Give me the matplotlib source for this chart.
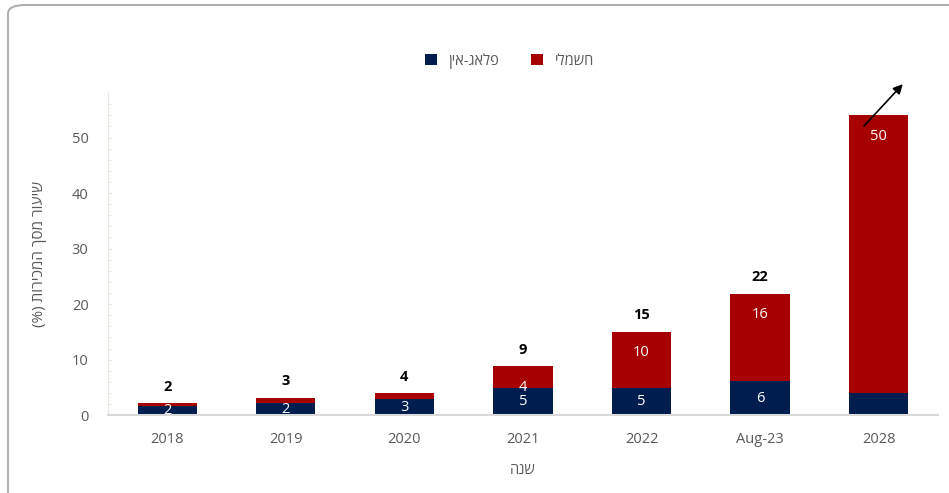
import numpy as np
import matplotlib
matplotlib.use("Agg")
import matplotlib.pyplot as plt
from matplotlib.patches import FancyBboxPatch

plt.rcParams['font.family'] = ['Open Sans', 'DejaVu Sans']

# data
years = ['2018', '2019', '2020', '2021', '2022', 'Aug-23', '2028']
plugin = [1.6, 2.2, 2.9, 4.9, 4.9, 6.1, 4.0]
electric = [0.5, 0.9, 1.0, 3.9, 10.1, 15.8, 50.0]
plugin_labels = ['2', '2', '3', '5', '5', '6', '']
electric_labels = ['', '', '', '4', '10', '16', '50']
total_labels = ['2', '3', '4', '9', '15', '22', '']

# hebrew is drawn left to right by matplotlib, so strings are given in visual order
lbl_plugin = 'ןיא-גאלפ'      # פלאג-אין
lbl_electric = 'ילמשח'       # חשמלי
ylab = '(%) תוריכמה ךסמ רועיש'  # שיעור מסך המכירות (%)
xlab = 'הנש'                 # שנה

navy = '#001d4f'
red = '#a60000'
grey = '#595959'

fig = plt.figure(figsize=(9.49, 4.93), dpi=100)
ax = fig.add_axes([0.1138, 0.158, 0.8745, 0.653])

x = np.arange(len(years))
ax.bar(x, plugin, width=0.5, color=navy, label=lbl_plugin, zorder=2)
ax.bar(x, electric, width=0.5, bottom=plugin, color=red, label=lbl_electric, zorder=2)

for i in range(len(years)):
    top = plugin[i] + electric[i]
    if plugin_labels[i]:
        ax.text(x[i], plugin[i] / 2, plugin_labels[i], ha='center', va='center',
                color='white', fontsize=10.5, clip_on=True, zorder=3)
    if electric_labels[i]:
        ax.annotate(electric_labels[i], (x[i], top), xytext=(0, -15),
                    textcoords='offset points', ha='center', va='center',
                    color='white', fontsize=10.5, zorder=3)
    if total_labels[i]:
        ax.annotate(total_labels[i], (x[i], top), xytext=(0, 12),
                    textcoords='offset points', ha='center', va='center',
                    color='black', fontsize=10.5, fontweight='bold')

# arrow on the 2028 bar
ax.annotate('', xy=(6.22, 60.0), xytext=(5.86, 51.7),
            arrowprops=dict(arrowstyle='-|>', color='black', lw=1.2, mutation_scale=14),
            annotation_clip=False)

ax.set_xlim(-0.5, 6.5)
ax.set_ylim(0, 58)
ax.set_xticks(x)
ax.set_xticklabels(years)
ax.set_yticks([0, 10, 20, 30, 40, 50])
ax.set_yticks(np.arange(0, 58, 2), minor=True)
ax.tick_params(axis='x', length=0, pad=12, labelsize=10.5, labelcolor=grey)
ax.tick_params(axis='y', which='major', length=3, direction='in', pad=14,
               labelsize=10.5, labelcolor=grey, color='#ece8e0')
ax.tick_params(axis='y', which='minor', length=3, direction='in', color='#ece8e0')

for s in ['top', 'right']:
    ax.spines[s].set_visible(False)
ax.spines['left'].set_color('#ece8e0')
ax.spines['bottom'].set_color('#d9d9d9')
ax.spines['bottom'].set_linewidth(1.5)

ax.set_ylabel(ylab, fontsize=11, color=grey, labelpad=18)
ax.set_xlabel(xlab, fontsize=10.5, color=grey, labelpad=12)

ax.legend(loc='center', bbox_to_anchor=(0.484, 1.10), ncol=2, frameon=False,
          fontsize=10.5, labelcolor=grey, handlelength=0.8, handleheight=0.8,
          columnspacing=2.2, handletextpad=0.8)

# rounded frame around the chart
frame = FancyBboxPatch((8 / 949, -0.2), 1.2, 1.2 - 5 / 493,
                       boxstyle='round,pad=0,rounding_size=0.018',
                       transform=fig.transFigure, fill=False,
                       edgecolor='#b0b0b0', lw=1.5, zorder=0)
fig.patches.append(frame)

fig.savefig('out.png', dpi=100)
